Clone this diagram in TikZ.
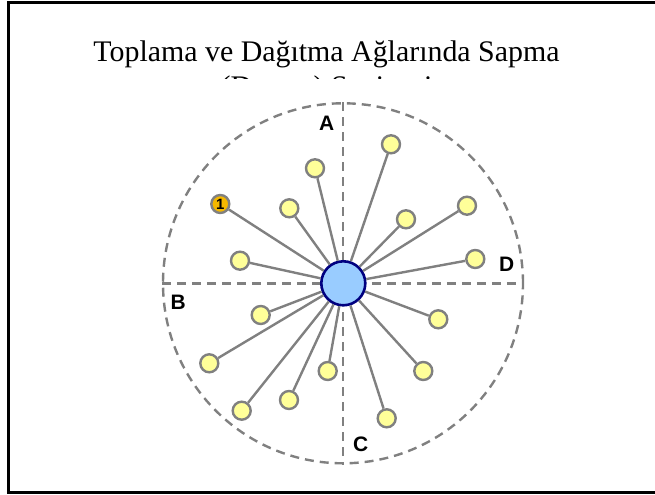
\documentclass[tikz,border=0pt]{standalone}
\usepackage{fontspec}
\setmainfont{Liberation Serif}
\newfontfamily\zonefont{Liberation Sans}
\usepackage{tikz}
\usetikzlibrary{positioning}
\usepackage{xcolor}
\definecolor{spokegray}{HTML}{808080}
\definecolor{hubblue}{HTML}{99CCFF}
\definecolor{hubnavy}{HTML}{000080}
\definecolor{leafyellow}{HTML}{FFFF99}
\definecolor{leadorange}{HTML}{F5B800}
\tikzset{
  ring/.style={draw=spokegray,circle,line width=2.4bp,dash pattern=on 9bp off 6bp,
    inner sep=0pt,minimum size=360bp},
  axis/.style={draw=spokegray,line width=2.4bp,dash pattern=on 9bp off 6bp},
  hub/.style={draw=hubnavy,fill=hubblue,circle,line width=2.6bp,inner sep=0pt,
    minimum size=44bp},
  leaf/.style={draw=spokegray,fill=leafyellow,circle,line width=2.4bp,inner sep=0pt,
    minimum size=18bp},
  leader/.style={leaf,fill=leadorange,font=\zonefont\bfseries\fontsize{15}{15}\selectfont},
  spoke/.style={draw=spokegray,line width=2.4bp},
  zone/.style={font=\zonefont\bfseries\fontsize{21}{21}\selectfont,inner sep=0pt},
  heading/.style={font=\fontsize{30}{34}\selectfont,inner sep=0pt,anchor=base}
}

\begin{document}
\begin{tikzpicture}[x=1bp,y=-1bp]
  \useasboundingbox (0,0) rectangle (655,495);
  \clip (0,0) rectangle (655,495);
  \draw[line width=3bp] (8.5,2.5) rectangle (680,492);

  % title, second line cut off
  \node[heading] (title) at (326.5,62) {Toplama ve Dağıtma Ağlarında Sapma};
  \begin{scope}
    \clip (0,0) rectangle (655,78.5);
    \node[heading] (subtitle) at (326.5,97) {(Detour) Seviyesi};
  \end{scope}

  % zones
  \node[ring] (ring) at (343,283.3) {};
  \draw[axis] (ring.north) -- (ring.south);
  \draw[axis] (ring.west) -- (ring.east);
  \node[zone] (za) at (326.7,123.3) {A};
  \node[zone] (zb) at (178.3,302.7) {B};
  \node[zone] (zc) at (360.7,444) {C};
  \node[zone] (zd) at (506.7,264) {D};

  % hub and leaves
  \node[hub] (hub) at (343.3,283.3) {};
  \node[leaf] (l1) at (315,168.3) {};
  \node[leaf] (l2) at (289.3,208.3) {};
  \node[leader] (l3) at (220.3,204) {1};
  \node[leaf] (l4) at (240,260.7) {};
  \node[leaf] (l5) at (391,144.3) {};
  \node[leaf] (l6) at (406,219.3) {};
  \node[leaf] (l7) at (467,205.7) {};
  \node[leaf] (l8) at (475.3,259) {};
  \node[leaf] (l9) at (260.7,315) {};
  \node[leaf] (l10) at (209.3,363.3) {};
  \node[leaf] (l11) at (241.7,410.7) {};
  \node[leaf] (l12) at (289,400) {};
  \node[leaf] (l13) at (327.7,371) {};
  \node[leaf] (l14) at (438.3,319.3) {};
  \node[leaf] (l15) at (423.3,371) {};
  \node[leaf] (l16) at (386.7,418.3) {};
  \draw[spoke] (hub) -- (l1) (hub) -- (l2) (hub) -- (l3) (hub) -- (l4)
    (hub) -- (l5) (hub) -- (l6) (hub) -- (l7) (hub) -- (l8)
    (hub) -- (l9) (hub) -- (l10) (hub) -- (l11) (hub) -- (l12)
    (hub) -- (l13) (hub) -- (l14) (hub) -- (l15) (hub) -- (l16);
\end{tikzpicture}
\end{document}
